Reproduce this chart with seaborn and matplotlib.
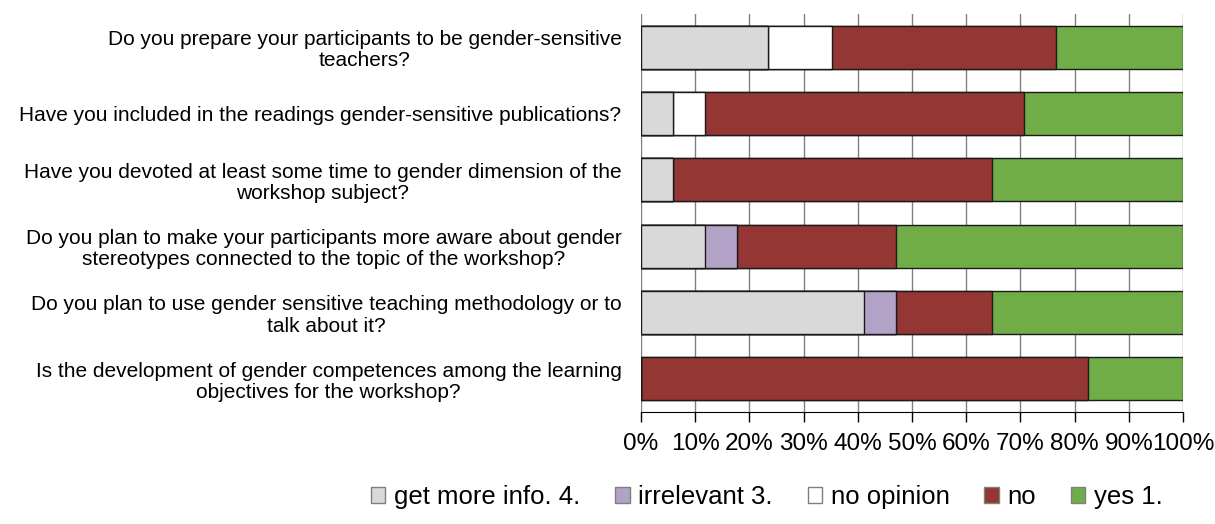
import seaborn as sns
import matplotlib.pyplot as plt
import numpy as np
import pandas as pd
from matplotlib.patches import Patch

questions = [
    "Do you prepare your participants to be gender-sensitive\nteachers?",
    "Have you included in the readings gender-sensitive publications?",
    "Have you devoted at least some time to gender dimension of the\nworkshop subject?",
    "Do you plan to make your participants more aware about gender\nstereotypes connected to the topic of the workshop?",
    "Do you plan to use gender sensitive teaching methodology or to\ntalk about it?",
    "Is the development of gender competences among the learning\nobjectives for the workshop?",
]
answers = ["get more info. 4.", "irrelevant 3.", "no opinion", "no", "yes 1."]
# shares in %, per question
get_more_info = [23.5, 5.9, 5.9, 11.8, 41.2, 0.0]
irrelevant = [0.0, 0.0, 0.0, 5.9, 5.9, 0.0]
no_opinion = [11.8, 5.9, 0.0, 0.0, 0.0, 0.0]
no = [41.2, 58.8, 58.8, 29.4, 17.6, 82.4]
yes = [23.5, 29.4, 35.3, 52.9, 35.3, 17.6]
colors = ["#D9D9D9", "#B3A2C7", "#FFFFFF", "#943634", "#70AD47"]

df = pd.DataFrame({"question": questions, answers[0]: get_more_info, answers[1]: irrelevant,
                   answers[2]: no_opinion, answers[3]: no, answers[4]: yes})
cum = df[answers].cumsum(axis=1)

plt.rcParams['font.family'] = ['Liberation Sans', 'DejaVu Sans']
fig = plt.figure(figsize=(12.15, 5.24), dpi=100)
ax = fig.add_axes([641 / 1215, 1 - 412 / 524, 542 / 1215, 398 / 524])

# draw cumulative bars from the right-most segment back to the left
for ans, col in zip(answers[::-1], colors[::-1]):
    sns.barplot(x=cum[ans], y=df["question"], orient="h", color=col, width=0.65,
                edgecolor="#1a1a1a", linewidth=1.0, saturation=1, ax=ax, zorder=3)

ax.set_xlim(0, 100)
ax.set_xticks(np.arange(0, 101, 10))
ax.set_xticklabels([f"{v}%" for v in range(0, 101, 10)], fontsize=17.5)
ax.set_yticks(range(len(questions)))
ax.set_yticklabels(questions, fontsize=15, multialignment="center", linespacing=1.15)
ax.tick_params(axis="y", length=0, pad=14)
ax.tick_params(axis="x", length=7, width=1, color="black", pad=8)
ax.grid(axis="x", color="#808080", linewidth=1, zorder=0)
ax.set_axisbelow(True)
for s in ["top", "left", "right"]:
    ax.spines[s].set_visible(False)
ax.spines["bottom"].set_color("black")
ax.set_xlabel("")
ax.set_ylabel("")

handles = [Patch(facecolor=c, edgecolor="#7f7f7f", linewidth=1) for c in colors]
fig.legend(handles, answers, loc="center", bbox_to_anchor=(767 / 1215, 1 - 497 / 524),
           ncol=5, frameon=False, fontsize=18.5, handlelength=0.55, handleheight=0.55,
           handletextpad=0.35, columnspacing=1.35)

fig.savefig("out.png", dpi=100)
